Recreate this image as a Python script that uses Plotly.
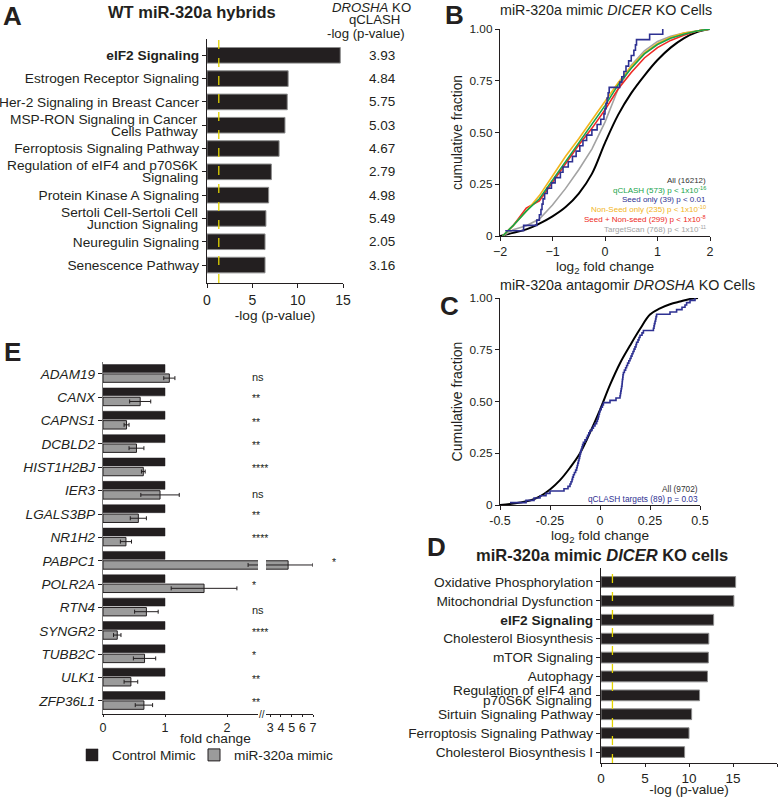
import plotly.graph_objects as go
import plotly.express as px

W, H = 784, 797
FONT = "Liberation Sans, Arial, sans-serif"
INK = "#231f20"
GREEN = "#17a34a"
BLUE = "#2e3192"
YELLOW = "#f2b51c"
RED = "#ee2a24"
GRAY = "#a3a3a3"
THRESH_COLOR = "#e3d400"

# ---------------- Panel A data ----------------
a_labels = ["<b>eIF2 Signaling</b>", "Estrogen Receptor Signaling", "Her-2 Signaling in Breast Cancer",
            "MSP-RON Signaling in Cancer<br>Cells Pathway", "Ferroptosis Signaling Pathway",
            "Regulation of eIF4 and p70S6K<br>Signaling", "Protein Kinase A Signaling",
            "Sertoli Cell-Sertoli Cell<br>Junction Signaling", "Neuregulin Signaling", "Senescence Pathway"]
a_values = [14.7, 8.95, 8.85, 8.6, 7.95, 7.1, 6.8, 6.5, 6.4, 6.4]
a_drosha = ["3.93", "4.84", "5.75", "5.03", "4.67", "2.79", "4.98", "5.49", "2.05", "3.16"]
threshold = 1.3

# ---------------- Panel B data ----------------
b_all_x = [-2, -1.75, -1.5, -1.25, -1.0, -0.75, -0.5, -0.25, 0, 0.25, 0.5, 0.75, 1.0, 1.25, 1.5, 1.75, 2.0]
b_all_y = [0, 0.015, 0.032, 0.06, 0.095, 0.14, 0.205, 0.30, 0.45, 0.585, 0.69, 0.775, 0.85, 0.91, 0.955, 0.985, 1.0]
b_x = [-1.95, -1.75, -1.5, -1.25, -1.0, -0.75, -0.5, -0.25, 0, 0.25, 0.5, 0.75, 1.0, 1.25, 1.5, 1.75, 2.0]
b_qclash_y = [0, 0.05, 0.12, 0.18, 0.27, 0.36, 0.45, 0.54, 0.63, 0.73, 0.81, 0.88, 0.925, 0.955, 0.975, 0.99, 1.0]
b_nonseed_y = [0, 0.05, 0.12, 0.195, 0.29, 0.385, 0.47, 0.56, 0.645, 0.74, 0.82, 0.885, 0.93, 0.96, 0.98, 0.99, 1.0]
b_seednon_y = [0, 0.05, 0.135, 0.17, 0.26, 0.35, 0.44, 0.52, 0.61, 0.71, 0.79, 0.86, 0.91, 0.945, 0.97, 0.99, 1.0]
b_tscan_y = [0, 0.03, 0.05, 0.082, 0.15, 0.23, 0.32, 0.42, 0.55, 0.71, 0.825, 0.895, 0.94, 0.965, 0.98, 0.99, 1.0]
b_seed_only = [-1.9, -1.55, -1.3, -1.25, -1.22, -1.2, -1.18, -1.15, -1.1, -1.02, -0.95, -0.85, -0.8,
               -0.7, -0.62, -0.55, -0.48, -0.42, -0.35, -0.25, -0.15, -0.08, -0.02, 0.0, 0.02, 0.04,
               0.06, 0.08, 0.28, 0.32, 0.36, 0.4, 0.45, 0.5, 0.55, 0.58, 0.6, 0.85, 1.1]
b_legend = [("All (16212)", "#333333"),
            ("qCLASH (573) p &lt; 1x10<sup>-16</sup>", GREEN),
            ("Seed only (39) p &lt; 0.01", BLUE),
            ("Non-Seed only (235) p &lt; 1x10<sup>-10</sup>", YELLOW),
            ("Seed + Non-seed (299) p &lt; 1x10<sup>-8</sup>", RED),
            ("TargetScan (768) p &lt; 1x10<sup>-11</sup>", GRAY)]

# ---------------- Panel C data ----------------
c_all_x = [-0.5, -0.45, -0.4, -0.35, -0.3, -0.25, -0.2, -0.15, -0.1, -0.05, 0, 0.05, 0.1, 0.15, 0.2, 0.25, 0.3, 0.35, 0.4, 0.45, 0.49]
c_all_y = [0, 0.005, 0.012, 0.022, 0.042, 0.075, 0.12, 0.18, 0.25, 0.35, 0.46, 0.58, 0.685, 0.77, 0.85, 0.92, 0.95, 0.97, 0.983, 0.995, 1.0]
c_qclash = [-0.45, -0.37, -0.33, -0.30, -0.27, -0.25, -0.18, -0.16, -0.15, -0.145, -0.14, -0.137, -0.133,
            -0.128, -0.122, -0.117, -0.114, -0.111, -0.108, -0.105, -0.102, -0.1, -0.097, -0.094, -0.09,
            -0.087, -0.083, -0.075, -0.067, -0.062, -0.056, -0.05, -0.04, -0.033, -0.025, -0.017, -0.013,
            -0.009, -0.006, -0.003, 0.0, 0.006, 0.012, 0.017, 0.05, 0.08, 0.1, 0.102, 0.104, 0.106, 0.108,
            0.11, 0.111, 0.112, 0.114, 0.115, 0.117, 0.122, 0.128, 0.133, 0.138, 0.144, 0.15, 0.155, 0.16,
            0.165, 0.17, 0.175, 0.18, 0.183, 0.19, 0.195, 0.2, 0.21, 0.217, 0.267, 0.27, 0.272, 0.275,
            0.278, 0.28, 0.283, 0.35, 0.383, 0.41, 0.425, 0.433, 0.45, 0.475]

# ---------------- Panel D data ----------------
d_labels = ["Oxidative Phosphorylation", "Mitochondrial Dysfunction", "<b>eIF2 Signaling</b>",
            "Cholesterol Biosynthesis", "mTOR Signaling", "Autophagy",
            "Regulation of eIF4 and<br>p70S6K Signaling", "Sirtuin Signaling Pathway",
            "Ferroptosis Signaling Pathway", "Cholesterol Biosynthesis I"]
d_values = [15.3, 15.1, 12.8, 12.25, 12.2, 12.1, 11.2, 10.3, 10.0, 9.5]

# ---------------- Panel E data ----------------
e_genes = ["ADAM19", "CANX", "CAPNS1", "DCBLD2", "HIST1H2BJ", "IER3", "LGALS3BP", "NR1H2",
           "PABPC1", "POLR2A", "RTN4", "SYNGR2", "TUBB2C", "ULK1", "ZFP36L1"]
e_control = [1, 1, 1, 1, 1, 1, 1, 1, 1, 1, 1, 1, 1, 1, 1]
e_mimic = [1.07, 0.60, 0.38, 0.54, 0.65, 0.92, 0.57, 0.37, 4.67, 1.63, 0.70, 0.23, 0.67, 0.45, 0.66]
e_err = [0.09, 0.17, 0.04, 0.12, 0.03, 0.31, 0.13, 0.09, 2.33, 0.53, 0.19, 0.06, 0.18, 0.11, 0.14]
e_sig = ["ns", "**", "**", "**", "****", "ns", "**", "****", "*", "*", "ns", "****", "*", "**", "**"]


def xd(a, b):
    return [a / W, b / W]


def yd(top, bottom):
    return [1 - bottom / H, 1 - top / H]


def axis(**kw):
    d = dict(showline=True, linecolor=INK, linewidth=1.3, ticks="outside", ticklen=4, tickwidth=1,
             tickcolor=INK, showgrid=False, zeroline=False, fixedrange=True,
             tickfont=dict(family=FONT, size=13, color=INK))
    d.update(kw)
    return d


def tf(size):
    return dict(family=FONT, size=size, color=INK)


fig = go.Figure()

# Panel A bars
fig.add_trace(go.Bar(x=a_values, y=a_labels, orientation="h", width=0.67,
                     marker=dict(color=INK, line=dict(color="#8c8c8c", width=1)),
                     xaxis="x", yaxis="y", showlegend=False))

# Panel B curves
fig.add_trace(go.Scatter(x=b_all_x, y=b_all_y, mode="lines", line=dict(color="black", width=2, shape="spline"),
                         xaxis="x2", yaxis="y2", showlegend=False, cliponaxis=False))
for ys, col in [(b_tscan_y, GRAY), (b_seednon_y, RED), (b_nonseed_y, YELLOW), (b_qclash_y, GREEN)]:
    fig.add_trace(go.Scatter(x=b_x, y=ys, mode="lines", line=dict(color=col, width=1.6),
                             xaxis="x2", yaxis="y2", showlegend=False, cliponaxis=False))
tb = px.ecdf(x=b_seed_only).data[0]
fig.add_trace(go.Scatter(x=tb.x, y=tb.y, mode="lines", line=dict(color=BLUE, width=1.6, shape="hv"),
                         xaxis="x2", yaxis="y2", showlegend=False, cliponaxis=False))

# Panel C curves
fig.add_trace(go.Scatter(x=c_all_x, y=c_all_y, mode="lines", line=dict(color="black", width=2, shape="spline"),
                         xaxis="x3", yaxis="y3", showlegend=False, cliponaxis=False))
tc = px.ecdf(x=c_qclash).data[0]
fig.add_trace(go.Scatter(x=tc.x, y=tc.y, mode="lines", line=dict(color=BLUE, width=1.6, shape="hv"),
                         xaxis="x3", yaxis="y3", showlegend=False, cliponaxis=False))

# Panel D bars
fig.add_trace(go.Bar(x=d_values, y=d_labels, orientation="h", width=0.57,
                     marker=dict(color=INK, line=dict(color="#8c8c8c", width=1)),
                     xaxis="x4", yaxis="y4", showlegend=False))

# Panel E bars (two x segments of a broken axis)
e_ticktext = ["<i>%s</i>" % g for g in e_genes]
fig.add_trace(go.Bar(x=e_control, y=e_genes, orientation="h", width=0.34, offset=-0.4,
                     marker=dict(color=INK, line=dict(color=INK, width=0.5)),
                     name="Control Mimic", xaxis="x5", yaxis="y5", legend="legend"))
fig.add_trace(go.Bar(x=e_mimic, y=e_genes, orientation="h", width=0.36, offset=0.0,
                     marker=dict(color="#9b9b9b", line=dict(color=INK, width=1)),
                     error_x=dict(type="data", array=e_err, color=INK, thickness=1, width=2),
                     name="miR-320a mimic", xaxis="x5", yaxis="y5", legend="legend2"))
fig.add_trace(go.Bar(x=e_mimic, y=e_genes, orientation="h", width=0.36, offset=0.0,
                     marker=dict(color="#9b9b9b", line=dict(color=INK, width=1)),
                     error_x=dict(type="data", array=e_err, color=INK, thickness=1, width=2),
                     showlegend=False, xaxis="x6", yaxis="y5"))

a_ticktext = ["" if "<br>" in s else s for s in a_labels]
d_ticktext = ["" if "<br>" in s else s for s in d_labels]

legend_style = dict(orientation="h", xanchor="left", yanchor="middle", font=tf(13.7),
                    bgcolor="rgba(0,0,0,0)", itemwidth=30)

fig.update_layout(
    width=W, height=H, margin=dict(l=0, r=0, t=0, b=0),
    paper_bgcolor="white", plot_bgcolor="white", template="none",
    font=dict(family=FONT, color=INK, size=13),
    barmode="overlay",
    xaxis=axis(domain=xd(207, 343), range=[0, 15], tickvals=[0, 5, 10, 15], anchor="y",
               tickfont=tf(14), title=dict(text="-log (p-value)", font=tf(13.7), standoff=3)),
    yaxis=axis(domain=yd(39, 283), type="category", categoryorder="array", categoryarray=a_labels,
               tickvals=a_labels, ticktext=a_ticktext,
               range=[9.77, -0.7], anchor="x", tickfont=tf(13.7)),
    xaxis2=axis(domain=xd(500, 710), range=[-2, 2], tickvals=[-2, -1, 0, 1, 2], anchor="y2",
                tickfont=tf(12.5), title=dict(text="log<sub>2</sub> fold change", font=tf(13.7), standoff=1)),
    yaxis2=axis(domain=yd(29, 236), range=[0, 1], tickvals=[0, 0.25, 0.5, 0.75, 1.0],
                ticktext=["0", "0.25", "0.50", "0.75", "1.00"], anchor="x2", tickfont=tf(11.8),
                title=dict(text="cumulative fraction", font=tf(13.8), standoff=3)),
    xaxis3=axis(domain=xd(500, 700), range=[-0.5, 0.5], tickvals=[-0.5, -0.25, 0, 0.25, 0.5],
                ticktext=["-0.5", "-0.25", "0", "0.25", "0.5"], anchor="y3", tickfont=tf(12.5),
                title=dict(text="log<sub>2</sub> fold change", font=tf(13.7), standoff=1)),
    yaxis3=axis(domain=yd(298, 505), range=[0, 1], tickvals=[0, 0.25, 0.5, 0.75, 1.0],
                ticktext=["0", "0.25", "0.50", "0.75", "1.00"], anchor="x3", tickfont=tf(11.8),
                title=dict(text="Cumulative fraction", font=tf(14), standoff=3)),
    xaxis4=axis(domain=xd(601, 777), range=[0, 20], tickvals=[0, 5, 10, 15, 20], anchor="y4",
                tickfont=tf(13.5), ticklen=3, title=dict(text="-log (p-value)", font=tf(13.5), standoff=1)),
    yaxis4=axis(domain=yd(568, 763), type="category", categoryorder="array", categoryarray=d_labels,
                tickvals=d_labels, ticktext=d_ticktext,
                range=[9.58, -0.74], anchor="x4", tickfont=tf(13.7)),
    xaxis5=axis(domain=xd(103, 258), range=[0, 2.5], tickvals=[0, 1, 2], anchor="y5", tickfont=tf(12.5),
                ticklen=2),
    xaxis6=axis(domain=xd(266, 313), range=[2.6, 7], tickvals=[3, 4, 5, 6, 7], anchor="y5", tickfont=tf(12.5),
                ticklen=2),
    yaxis5=axis(domain=yd(362, 714), type="category", categoryorder="array", categoryarray=e_genes,
                tickvals=e_genes, ticktext=e_ticktext, range=[14.56, -0.51], anchor="x5",
                linecolor="#777777", tickfont=tf(13.6)),
    legend=dict(x=72 / W, y=1 - 755 / H, **legend_style),
    legend2=dict(x=194 / W, y=1 - 755 / H, **legend_style),
)

shapes = [
    dict(type="line", xref="x", yref="y domain", x0=threshold, x1=threshold, y0=0, y1=1,
         line=dict(color=THRESH_COLOR, width=1.3, dash="dash")),
    dict(type="line", xref="x4", yref="y4 domain", x0=threshold, x1=threshold, y0=0, y1=1,
         line=dict(color=THRESH_COLOR, width=1.3, dash="dash")),
]
fig.update_layout(shapes=shapes)


def ann(text, x, y, size=13, xanchor="center", yanchor="middle", color=INK, **kw):
    d = dict(text=text, x=x / W, y=1 - y / H, xref="paper", yref="paper", showarrow=False,
             xanchor=xanchor, yanchor=yanchor, font=dict(family=FONT, size=size, color=color))
    d.update(kw)
    return d


anns = []
# panel letters
for letter, x, y in [("A", 12, 16), ("B", 454, 15), ("C", 449, 306), ("D", 436, 547), ("E", 12, 352)]:
    anns.append(ann("<b>%s</b>" % letter, x, y, size=26))
# titles
anns.append(ann("<b>WT miR-320a hybrids</b>", 192, 12, size=16.5))
anns.append(ann("miR-320a mimic <i>DICER</i> KO Cells", 606, 10, size=14.3))
anns.append(ann("miR-320a antagomir <i>DROSHA</i> KO Cells", 627, 285, size=14.3))
anns.append(ann("<b>miR-320a mimic <i>DICER</i> KO cells</b>", 602, 555, size=16.5))
# two-line category labels (tight line spacing as in the reference)
for labels, yref, xr, half in [(a_labels, "y", 200, 6), (d_labels, "y4", 594, 5)]:
    for lab in labels:
        if "<br>" in lab:
            l1, l2 = lab.split("<br>")
            for txt, sh in [(l1, half), (l2, -half)]:
                anns.append(dict(text=txt, x=xr / W, xref="paper", y=lab, yref=yref, yshift=sh,
                                 showarrow=False, xanchor="right", yanchor="middle", font=tf(13.7)))
# panel A right column
anns.append(ann("<i>DROSHA</i> KO", 371, 7, size=13.2))
anns.append(ann("qCLASH", 374, 20, size=13.2))
anns.append(ann("-log (p-value)", 366, 33, size=13.2))
for lab, v in zip(a_labels, a_drosha):
    anns.append(dict(text=v, x=382 / W, xref="paper", y=lab, yref="y", showarrow=False,
                     xanchor="center", yanchor="middle", font=tf(13.5)))
# panel B legend
for i, (t, c) in enumerate(b_legend):
    anns.append(ann(t, 708, 180 + i * 9.8, size=8, xanchor="right", color=c))
# panel C legend
anns.append(ann("All (9702)", 700, 489, size=8.3, xanchor="right", color="#333333"))
anns.append(ann("qCLASH targets (89) p = 0.03", 700, 499, size=8.3, xanchor="right", color=BLUE))
# panel E significance
for g, s in zip(e_genes, e_sig):
    xpos = 330 if g == "PABPC1" else 250
    anns.append(dict(text=s, x=xpos / W, xref="paper", y=g, yref="y5", yshift=-3 if s == "ns" else -1,
                     showarrow=False, xanchor="left", yanchor="middle",
                     font=tf(11 if s == "ns" else 10.5)))
anns.append(ann("fold change", 215, 738, size=13.7))
anns.append(ann("//", 262, 714, size=10))
fig.update_layout(annotations=anns)

fig.write_html("out.html", config={"displayModeBar": False},
               post_script="document.body.style.margin='0px';")
